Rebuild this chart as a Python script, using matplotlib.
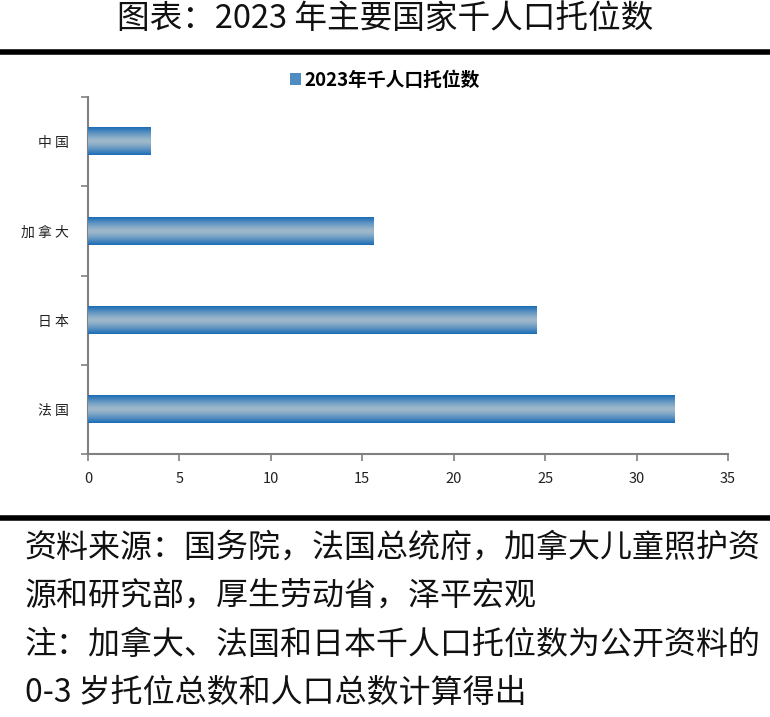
import numpy as np
import matplotlib
matplotlib.use("Agg")
import matplotlib.pyplot as plt
from matplotlib.colors import LinearSegmentedColormap
from matplotlib.patches import Patch

plt.rcParams['font.family'] = ['Noto Sans CJK SC', 'DejaVu Sans']

# data
countries = ['中国', '加拿大', '日本', '法国']
slots = [3.4, 15.6, 24.5, 32.1]
series_name = '2023年千人口托位数'
x_ticks = [0, 5, 10, 15, 20, 25, 30, 35]

title = '图表：2023 年主要国家千人口托位数'
notes = [
    '资料来源：国务院，法国总统府，加拿大儿童照护资',
    '源和研究部，厚生劳动省，泽平宏观',
    '注：加拿大、法国和日本千人口托位数为公开资料的',
    '0-3 岁托位总数和人口总数计算得出',
]

fig = plt.figure(figsize=(7.7, 7.17), dpi=100)

# heading and rules
fig.text(0.5, 0.974, title, ha='center', va='center', fontsize=23.5,
         fontweight='light', color='#111111')
fig.add_artist(plt.Line2D([0.003, 0.997], [0.927, 0.927], color='black', lw=4))
fig.add_artist(plt.Line2D([0.003, 0.997], [0.277, 0.277], color='black', lw=4))

ax = fig.add_axes([0.1143, 0.3668, 0.8312, 0.4979])

y = np.arange(len(countries))
bars = ax.barh(y, slots, height=0.31, color='#1f6fb8', zorder=2)

# gradient fill over each bar
cmap = LinearSegmentedColormap.from_list('bar', ['#9fb9cb', '#1a6cb6'])
grad = np.abs(np.linspace(-1, 1, 64)).reshape(-1, 1) ** 1.3
for b in bars:
    x0, y0 = b.get_x(), b.get_y()
    w, h = b.get_width(), b.get_height()
    ax.imshow(grad, cmap=cmap, aspect='auto', extent=[x0, x0 + w, y0 + h, y0],
              zorder=3, interpolation='bicubic')

ax.set_xlim(0, 35)
ax.set_ylim(len(countries) - 0.5, -0.5)
ax.set_xticks(x_ticks)
ax.set_xticklabels([str(t) for t in x_ticks], fontsize=10.5, color='#222222')
ax.set_yticks(y)
ax.set_yticklabels([' '.join(c) for c in countries], fontsize=10, color='#222222')
ax.set_yticks(np.arange(len(countries) + 1) - 0.5, minor=True)
ax.tick_params(axis='y', which='major', length=0, pad=14)
ax.tick_params(axis='y', which='minor', length=5, color='#808080', width=1.2)
ax.tick_params(axis='x', length=5, color='#808080', width=1.2, pad=8)

for s in ['top', 'right']:
    ax.spines[s].set_visible(False)
for s in ['left', 'bottom']:
    ax.spines[s].set_color('#808080')
    ax.spines[s].set_linewidth(1.5)

ax.legend(handles=[Patch(facecolor='#4f8cc2', label=series_name)],
          loc='center', bbox_to_anchor=(0.5, 0.888), bbox_transform=fig.transFigure,
          frameon=False, handlelength=0.6, handleheight=0.6, handletextpad=0.2,
          prop={'size': 13.5, 'weight': 'bold'})

note_y = [0.236, 0.169, 0.100, 0.033]
for txt, ny in zip(notes, note_y):
    fig.text(0.032, ny, txt, ha='left', va='center', fontsize=23,
             fontweight='light', style='italic', color='#111111')

fig.savefig('out.png', dpi=100)
